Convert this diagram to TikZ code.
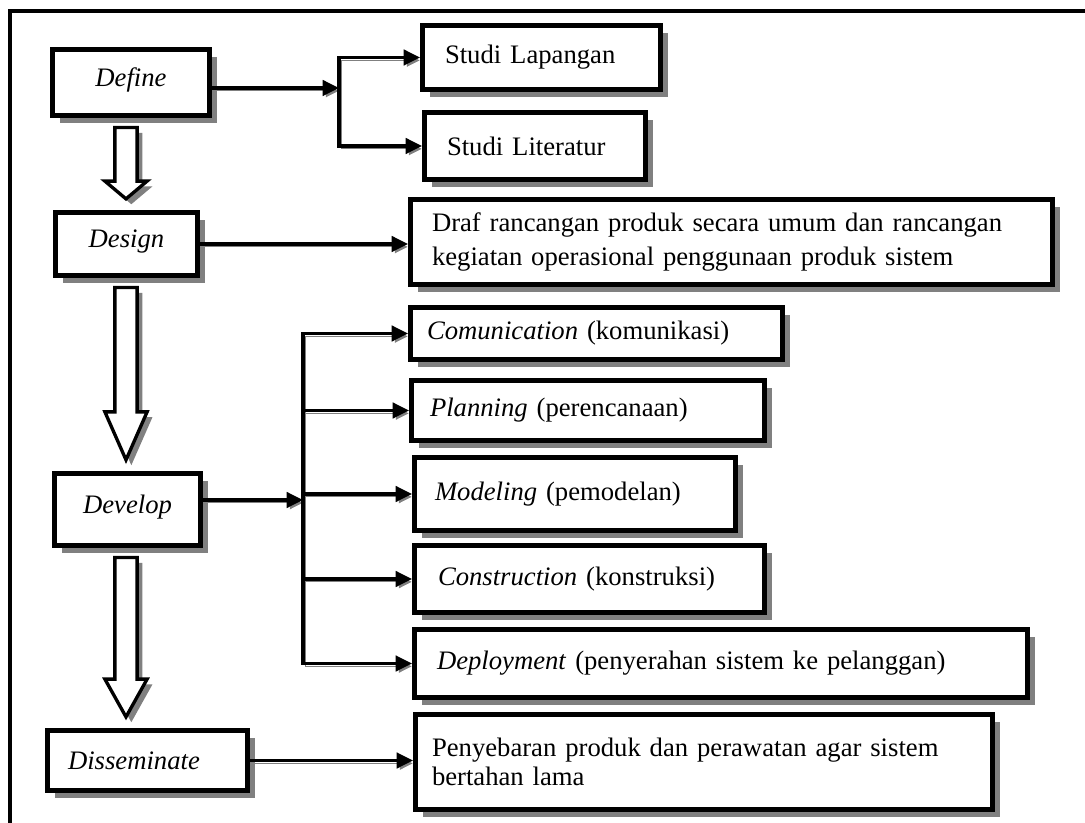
\documentclass[tikz,border=0pt]{standalone}
\usepackage{fontspec}
\setmainfont{Liberation Serif}
\usetikzlibrary{arrows.meta,shadows,calc}

% hollow arrow going down from one stage to the next
\newcommand{\blockArrow}[3]{%
  \draw[hollowArrow] let \p1=(#1.south), \p2=(#2.north), \p3=(arrowColumn) in
    (\x3-5pt,\y1-4.3pt) -- (\x3+5pt,\y1-4.3pt) -- (\x3+5pt,\y2+5pt+#3)
    -- (\x3+9.5pt,\y2+5pt+#3) -- (\x3,\y2+5pt) -- (\x3-9.5pt,\y2+5pt+#3)
    -- (\x3-5pt,\y2+5pt+#3) -- cycle;}

\begin{document}
\begin{tikzpicture}[x=0.45pt, y=-0.45pt,
    stage/.style 2 args={draw=borderColour, line width=2.25pt, fill=white,
        font=\fontsize{12}{14}\selectfont\itshape, inner sep=0pt,
        text height=0.7em, text depth=0.35em,
        minimum width=#1*\unitPx, minimum height=#2*\unitPx, boxShadow},
    result/.style n args={3}{draw=borderColour, line width=2.25pt, fill=white,
        font=\fontsize{12}{14}\selectfont, align=left, inner ysep=0pt,
        inner xsep=#3*\unitPx, textWidth={#1-2*#3},
        minimum width=#1*\unitPx, minimum height=#2*\unitPx, boxShadow},
    textWidth/.code={\pgfmathsetlengthmacro\boxTextWidth{(#1)*\unitPx}%
        \pgfkeysalso{text width/.expanded=\boxTextWidth}},
    boxShadow/.style={drop shadow={shadow xshift=3.4pt, shadow yshift=-3.4pt,
        fill=shadowColour, opacity=1}},
    tip/.style={Triangle[length=7.4pt, width=7pt]},
    link/.style={draw=borderColour, line width=1.4pt, -{Triangle[length=7.4pt, width=7pt]},
        preaction={draw=shadowColour, transform canvas={shift={(1pt,-1.3pt)}}}},
    hollowArrow/.style={draw=borderColour, line width=1.5pt, fill=white,
        drop shadow={shadow xshift=2.4pt, shadow yshift=-2.4pt,
        fill=shadowColour, opacity=1}}]
    \definecolor{borderColour}{HTML}{000000}
    \definecolor{shadowColour}{HTML}{808080}

    \def\unitPx{0.45pt}

    \useasboundingbox (0,0) rectangle (1085,823);

    % Outer frame
    \draw[borderColour, line width=1.8pt] (9.5,823) -- (9.5,11) -- (1085,11);

    % Stages
    \node[stage={157}{66}] (define) at (131,82.5) {Define};
    \node[stage={142}{63}] (design) at (126.5,244) {Design};
    \node[stage={146}{72}] (develop) at (127.5,509.5) {Develop};
    \node[result={200}{60}{20.5}, font=\fontsize{12}{14}\selectfont\itshape]
        (disseminate) at (147.5,760.5) {Disseminate};

    % Results of each stage
    \node[result={238}{64}{22.5}] (lapangan) at (541.5,57.5) {Studi Lapangan};
    \node[result={221}{67}{22.5}] (literatur) at (535,146) {Studi Literatur};
    \node[result={642}{85}{21.5}, font=\fontsize{12}{15}\selectfont] (draf) at (731.5,242)
        {Draf rancangan produk secara umum dan rancangan\\kegiatan operasional penggunaan produk sistem};
    \node[result={372}{52}{16.5}] (communication) at (596.5,333.5) {\textit{Comunication} (komunikasi)};
    \node[result={353}{60}{18.5}] (planning) at (588,410.5) {\textit{Planning} (perencanaan)};
    \node[result={321}{73}{20.5}] (modeling) at (575,494) {\textit{Modeling} (pemodelan)};
    \node[result={350}{67}{23.5}] (construction) at (589.5,579) {\textit{Construction} (konstruksi)};
    \node[result={613}{68}{22.5}] (deployment) at (721,663.5)
        {\textit{Deployment} (penyerahan sistem ke pelanggan)};
    \node[result={577}{95}{16.5}, font=\fontsize{12}{13}\selectfont] (penyebaran) at (704,762)
        {Penyebaran produk dan perawatan agar sistem\\bertahan lama};

    % Hollow arrows between stages
    \coordinate (arrowColumn) at (126,0);
    \blockArrow{define}{design}{8pt}
    \blockArrow{design}{develop}{21.6pt}
    \blockArrow{develop}{disseminate}{17pt}

    % Define branches
    \coordinate (defineFork) at (339,88);
    \draw[link] (define.east |- defineFork) -- (defineFork);
    \draw[link, {Triangle[length=7.4pt, width=7pt]}-{Triangle[length=7.4pt, width=7pt]}]
        (lapangan.west) -- (defineFork |- lapangan.west) -- (defineFork |- literatur.west) -- (literatur.west);

    % Design and Disseminate
    \draw[link] (design.east) -- (design.east -| draf.west);
    \draw[link] (disseminate.east) -- (disseminate.east -| penyebaran.west);

    % Develop branches
    \coordinate (developFork) at (303,500);
    \draw[link] (develop.east |- developFork) -- (developFork);
    \draw[link, {Triangle[length=7.4pt, width=7pt]}-{Triangle[length=7.4pt, width=7pt]}]
        (communication.west) -- (developFork |- communication.west)
        -- (developFork |- deployment.west) -- (deployment.west);
    \foreach \step in {planning, modeling, construction}
        \draw[link] (developFork |- \step.west) -- (\step.west);

\end{tikzpicture}
\end{document}
